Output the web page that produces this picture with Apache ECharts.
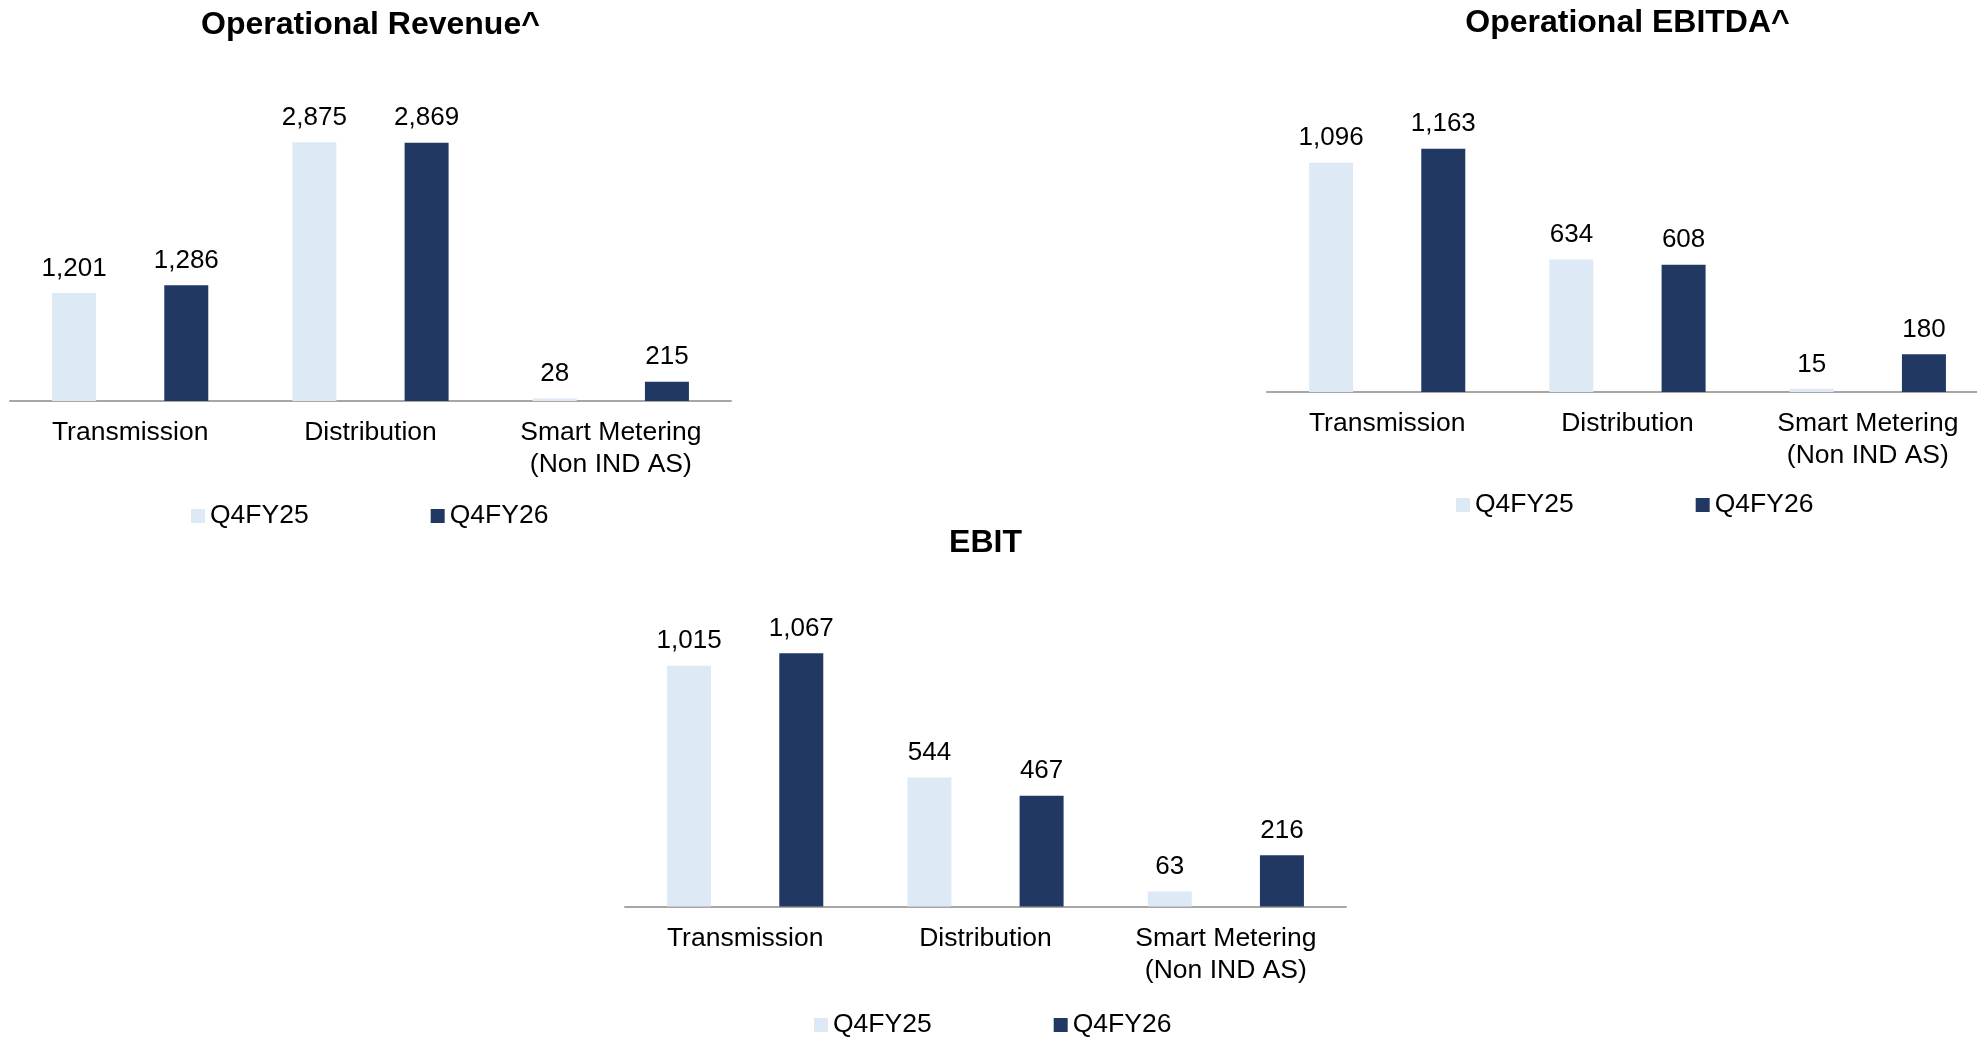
<!DOCTYPE html>
<html>
<head>
<meta charset="utf-8">
<script src="https://cdn.jsdelivr.net/npm/echarts@6/dist/echarts.min.js"></script>
<style>
html,body{margin:0;padding:0;background:#fff;overflow:hidden;}
#c{width:2000px;height:1038px;}
</style>
</head>
<body>
<div id="c"></div>
<script>
const categories = ['Transmission', 'Distribution', 'Smart Metering\n(Non IND AS)'];
const seriesNames = ['Q4FY25', 'Q4FY26'];
const revenueQ4FY25 = [1201, 2875, 28];
const revenueQ4FY26 = [1286, 2869, 215];
const ebitdaQ4FY25 = [1096, 634, 15];
const ebitdaQ4FY26 = [1163, 608, 180];
const ebitQ4FY25 = [1015, 544, 63];
const ebitQ4FY26 = [1067, 467, 216];
const titles = ['Operational Revenue^', 'Operational EBITDA^', 'EBIT'];

const FONT = "'Liberation Sans', Arial, sans-serif";
const LIGHT = '#DDEAF6';
const DARK = '#213862';

const panels = [
  {grid: {left: 10, top: 131, width: 721, height: 270}, max: 3000, titleTop: 9, legendLeft: 191, legendTop: 502.5, d: [revenueQ4FY25, revenueQ4FY26]},
  {grid: {left: 1267, top: 141, width: 721, height: 251}, max: 1200, titleTop: 7, legendLeft: 1456, legendTop: 491.5, d: [ebitdaQ4FY25, ebitdaQ4FY26]},
  {grid: {left: 625, top: 645.5, width: 721, height: 261}, max: 1100, titleTop: 527, legendLeft: 814, legendTop: 1011.5, d: [ebitQ4FY25, ebitQ4FY26]}
];

const option = {
  animation: false,
  backgroundColor: '#fff',
  textStyle: {fontFamily: FONT},
  title: panels.map((p, i) => ({
    text: titles[i],
    left: p.grid.left + p.grid.width / 2,
    top: p.titleTop,
    textAlign: 'center',
    padding: 0,
    textStyle: {fontFamily: FONT, fontWeight: 'bold', fontSize: 32, color: '#000'}
  })),
  legend: panels.map(p => ({
    data: seriesNames,
    left: p.legendLeft,
    top: p.legendTop,
    padding: 0,
    itemWidth: 14,
    itemHeight: 14,
    itemGap: 122,
    icon: 'rect',
    selectedMode: false,
    textStyle: {fontFamily: FONT, fontSize: 26.5, color: '#000'}
  })),
  grid: panels.map(p => Object.assign({containLabel: false}, p.grid)),
  xAxis: panels.map((p, i) => ({
    type: 'category',
    gridIndex: i,
    data: categories,
    axisTick: {show: false},
    axisLine: {show: true, lineStyle: {color: '#A6A6A6', width: 2}},
    axisLabel: {fontFamily: FONT, fontSize: 26.5, lineHeight: 32, color: '#000', margin: 16, interval: 0}
  })),
  yAxis: panels.map((p, i) => ({
    type: 'value',
    gridIndex: i,
    min: 0,
    max: p.max,
    show: false,
    splitLine: {show: false}
  })),
  series: []
};

panels.forEach((p, i) => {
  [0, 1].forEach(j => {
    option.series.push({
      type: 'bar',
      name: seriesNames[j],
      xAxisIndex: i,
      yAxisIndex: i,
      data: p.d[j],
      barWidth: 44,
      barGap: '155%',
      itemStyle: {color: j === 0 ? LIGHT : DARK},
      label: {
        show: true,
        position: 'top',
        distance: 11.5,
        fontFamily: FONT,
        fontSize: 26,
        color: '#000',
        formatter: v => v.value.toLocaleString('en-US')
      }
    });
  });
});

const chart = echarts.init(document.getElementById('c'), null, {renderer: 'canvas'});
chart.setOption(option);
</script>
</body>
</html>
